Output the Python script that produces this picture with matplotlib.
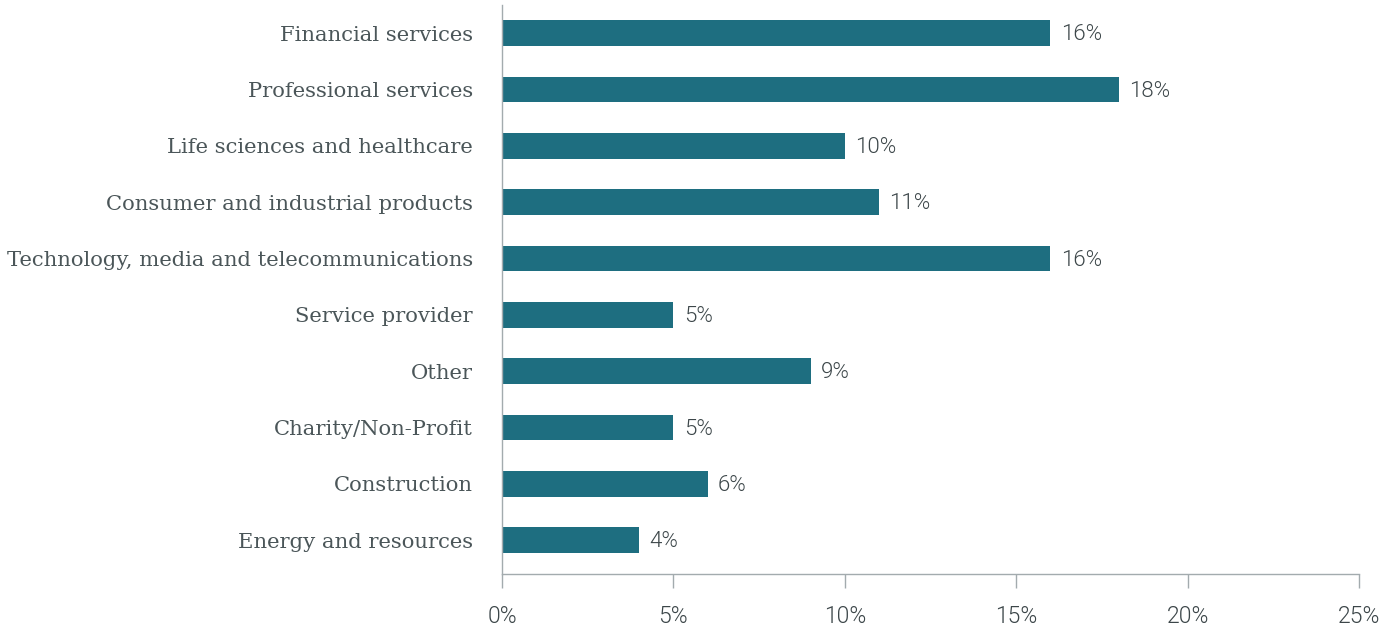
import matplotlib
matplotlib.use("Agg")
import matplotlib.pyplot as plt
from matplotlib.ticker import FuncFormatter

categories = [
    "Financial services",
    "Professional services",
    "Life sciences and healthcare",
    "Consumer and industrial products",
    "Technology, media and telecommunications",
    "Service provider",
    "Other",
    "Charity/Non-Profit",
    "Construction",
    "Energy and resources",
]
shares = [16, 18, 10, 11, 16, 5, 9, 5, 6, 4]
x_ticks = [0, 5, 10, 15, 20, 25]

BAR = "#1e6e80"
TEXT = "#4b5659"
NUM = "#3c4649"
AXIS = "#a3abae"
SANS = ["Roboto", "DejaVu Sans"]

fig = plt.figure(figsize=(13.86, 6.3), dpi=100)
ax = fig.add_axes([0.3622, 0.0889, 0.6183, 0.9032])

ypos = list(range(len(categories)))
ax.barh(ypos, shares, height=0.46, color=BAR)

for y, v in zip(ypos, shares):
    ax.text(v + 0.3, y + 0.03, f"{v}%", va="center", ha="left",
            fontsize=16, color=NUM, family=SANS, fontweight=300)

ax.set_ylim(len(categories) - 0.4, -0.5)
ax.set_xlim(0, 25)
ax.set_yticks(ypos)
ax.set_yticklabels(categories, family=["DejaVu Serif"], fontsize=15.2,
                   color=TEXT)
ax.set_xticks(x_ticks)
ax.xaxis.set_major_formatter(FuncFormatter(lambda v, _: f"{v:.0f}%"))
for lbl in ax.get_xticklabels():
    lbl.set_family(SANS)
    lbl.set_fontweight(300)
    lbl.set_fontsize(16.5)
    lbl.set_color(NUM)

ax.tick_params(axis="y", length=0, pad=21)
ax.tick_params(axis="x", length=10, width=1, color=AXIS, pad=12)

for side in ("top", "right"):
    ax.spines[side].set_visible(False)
for side in ("left", "bottom"):
    ax.spines[side].set_color(AXIS)
    ax.spines[side].set_linewidth(1)

fig.savefig("out.png", dpi=100)
